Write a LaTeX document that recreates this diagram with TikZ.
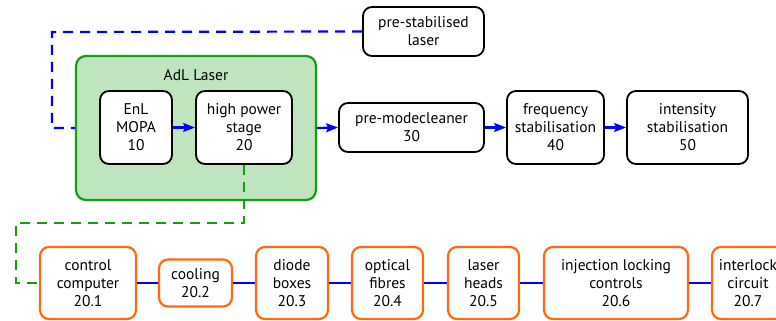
\documentclass[tikz,border=0pt]{standalone}
\usepackage{fontspec}
\setmainfont{PT Sans}
\usetikzlibrary{arrows.meta}
\definecolor{bfill}{RGB}{191,229,191}
\definecolor{bgreen}{RGB}{16,160,16}
\definecolor{borange}{RGB}{255,106,16}
\tikzset{bx/.style  = {rectangle, rounded corners=9pt, line width=1.8pt, draw, fill=white, align=center,
                       inner sep=0pt, font=\fontsize{15.5}{18}\selectfont},
         ob/.style  = {bx, draw=borange, line width=2.2pt},
         grp/.style = {rectangle, rounded corners=10pt, line width=2.2pt, draw=bgreen, fill=bfill},
         bl/.style  = {blue, line width=2.2pt},
         bd/.style  = {bl, dash pattern=on 10pt off 7pt},
         gd/.style  = {bgreen, line width=2.2pt, dash pattern=on 10pt off 7pt}}

\begin{document}
\begin{tikzpicture}[x=1pt, y=-1pt, >={Stealth[length=12pt, width=9pt, inset=2pt]}]
    \clip (0,0) rectangle (776,321);
    \node[grp, minimum width=240pt, minimum height=144pt] (adl) at (196,128) {};
    \node[font=\fontsize{15.5}{18}\selectfont] (adlname) at (196,75) {AdL Laser};
    \node[bx, minimum width=121pt, minimum height=49pt] (psl)  at (423.5,31.5) {pre-stabilised\\laser};
    \node[bx, minimum width=72pt,  minimum height=73pt] (mopa) at (136,127.5) {EnL\\MOPA\\10};
    \node[bx, minimum width=96pt,  minimum height=73pt] (hps)  at (244,127.5) {high power\\stage\\20};
    \node[bx, minimum width=145pt, minimum height=49pt] (pmc)  at (411.5,127.5) {pre-modecleaner\\30};
    \node[bx, minimum width=97pt,  minimum height=73pt] (fss)  at (555.5,127.5) {frequency\\stabilisation\\40};
    \node[bx, minimum width=121pt, minimum height=73pt] (iss)  at (687.5,127.5) {intensity\\stabilisation\\50};
    \node[ob, minimum width=96pt,  minimum height=72pt] (comp) at (88,283) {control\\computer\\20.1};
    \node[ob, minimum width=73pt,  minimum height=47pt] (cool) at (195.5,283) {cooling\\20.2};
    \node[ob, minimum width=72pt,  minimum height=72pt] (diod) at (292,283) {diode\\boxes\\20.3};
    \node[ob, minimum width=71pt,  minimum height=72pt] (fibr) at (387.5,283) {optical\\fibres\\20.4};
    \node[ob, minimum width=71pt,  minimum height=72pt] (head) at (483.5,283) {laser\\heads\\20.5};
    \node[ob, minimum width=144pt, minimum height=72pt] (inj)  at (616,283) {injection locking\\controls\\20.6};
    \node[ob, minimum width=72pt,  minimum height=72pt] (ilk)  at (748,283) {interlock\\circuit\\20.7};
    \coordinate (pslturn) at (52,32);
    \coordinate (hpsturn) at (16,223);
    \draw[bd] (psl.west) -- (pslturn) |- (adl.west);
    \draw[gd] (hps.south) |- (hpsturn) |- (comp.west);
    \draw[bl, ->] (mopa) -- (hps);
    \draw[bl, ->] (adl.east) -- (pmc.west);
    \draw[bl, ->] (pmc) -- (fss);
    \draw[bl, ->] (fss) -- (iss);
    \draw[bl] (comp) -- (cool);
    \draw[bl] (cool) -- (diod);
    \draw[bl] (diod) -- (fibr);
    \draw[bl] (fibr) -- (head);
    \draw[bl] (head) -- (inj);
    \draw[bl] (inj)  -- (ilk);
\end{tikzpicture}
\end{document}
